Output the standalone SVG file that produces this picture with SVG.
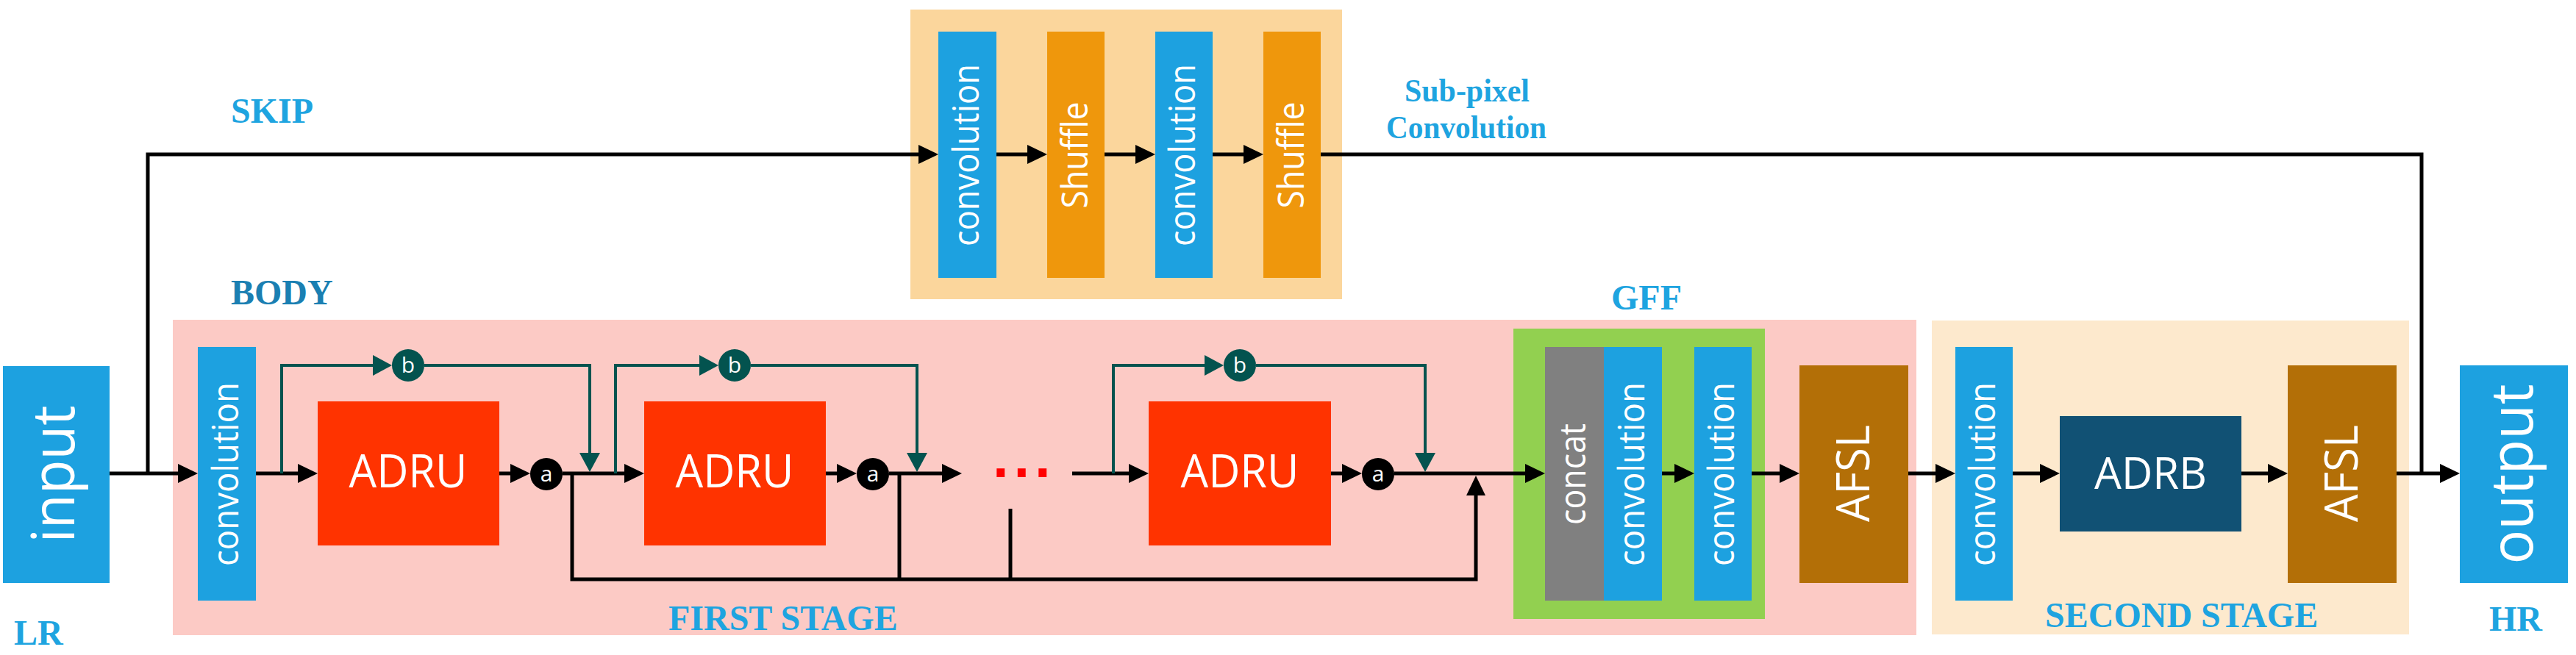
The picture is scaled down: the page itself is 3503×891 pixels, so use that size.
<svg xmlns="http://www.w3.org/2000/svg" width="3503" height="891" viewBox="0 0 3503 891">
<style>
.lbl{font-family:"Liberation Serif","Times New Roman",serif;font-weight:bold;font-size:48px;fill:#1ea4e0}
.body{fill:#1a7fb2}
.wt{font-family:"Open Sans","Noto Sans",sans-serif;fill:#fff;text-anchor:middle}
.vt{font-size:50px}
.blue{fill:#1da1e0}
.shuf{fill:#ef970c}
.adru{fill:#ff3300}
.afsl{fill:#b36f07}
.ln{fill:none;stroke:#000;stroke-width:5;stroke-linejoin:miter;stroke-linecap:butt}
.tl{fill:none;stroke:#03534f;stroke-width:4}
.cb{fill:#03534f}
.ca{fill:#000}
.ct{font-size:30px}
</style>
<defs>
<marker id="ab" markerUnits="userSpaceOnUse" markerWidth="28" markerHeight="28" refX="17" refY="13" orient="auto"><path d="M0,0 L27,13 L0,26 z" fill="#000"/></marker>
<marker id="at" markerUnits="userSpaceOnUse" markerWidth="28" markerHeight="30" refX="16" refY="14" orient="auto"><path d="M0,0 L26,14 L0,28 z" fill="#03534f"/></marker>
</defs>
<rect width="3503" height="891" fill="#fff"/>
<!-- backgrounds -->
<g id="subpixel-group"><rect x="1238" y="13" width="587" height="394" fill="#fbd69c"/></g>
<g id="first-stage-group"><rect x="235" y="435" width="2371" height="429" fill="#fccac5"/></g>
<g id="gff-group"><rect x="2058" y="447" width="342" height="395" fill="#92d050"/></g>
<g id="second-stage-group"><rect x="2627" y="436" width="649" height="427" fill="#fde9cd"/></g>

<!-- labels -->
<text class="lbl" x="314" y="167">SKIP</text>
<text class="lbl body" x="314" y="414">BODY</text>
<text class="lbl" x="2191" y="421">GFF</text>
<text class="lbl" x="1995" y="138" text-anchor="middle" textLength="170" lengthAdjust="spacingAndGlyphs" style="font-size:44px">Sub-pixel</text>
<text class="lbl" x="1994" y="188" text-anchor="middle" textLength="218" lengthAdjust="spacingAndGlyphs" style="font-size:44px">Convolution</text>
<text class="lbl" x="909" y="857">FIRST STAGE</text>
<text class="lbl" x="2781" y="853">SECOND STAGE</text>
<text class="lbl" x="19" y="877">LR</text>
<text class="lbl" x="3385" y="858">HR</text>

<!-- connectors -->
<g id="connectors">
<path class="ln" d="M149,644 H259" marker-end="url(#ab)"/>
<path class="ln" d="M201,644 V210 H1266" marker-end="url(#ab)"/>
<path class="ln" d="M1355,210 H1414" marker-end="url(#ab)"/>
<path class="ln" d="M1502,210 H1561" marker-end="url(#ab)"/>
<path class="ln" d="M1649,210 H1708" marker-end="url(#ab)"/>
<path class="ln" d="M1796,210 H3293 V644"/>
<path class="ln" d="M348,644 H422" marker-end="url(#ab)"/>
<path class="ln" d="M679,644 H711" marker-end="url(#ab)"/>
<path class="ln" d="M765,644 H866" marker-end="url(#ab)"/>
<path class="ln" d="M1123,644 H1155" marker-end="url(#ab)"/>
<path class="ln" d="M1209,644 H1298" marker-end="url(#ab)"/>
<path class="ln" d="M1458,644 H1552" marker-end="url(#ab)"/>
<path class="ln" d="M1810,644 H1842" marker-end="url(#ab)"/>
<path class="ln" d="M1896,644 H2091" marker-end="url(#ab)"/>
<path class="ln" d="M2260,644 H2294" marker-end="url(#ab)"/>
<path class="ln" d="M2382,644 H2437" marker-end="url(#ab)"/>
<path class="ln" d="M2595,644 H2649" marker-end="url(#ab)"/>
<path class="ln" d="M2737,644 H2791" marker-end="url(#ab)"/>
<path class="ln" d="M3048,644 H3101" marker-end="url(#ab)"/>
<path class="ln" d="M3259,644 H3335" marker-end="url(#ab)"/>
<path class="ln" d="M778,646 V788 H2007 V657" marker-end="url(#ab)"/>
<path class="ln" d="M1223,646 V788"/>
<path class="ln" d="M1374,692 V788"/>
<path class="tl" d="M383,644 V497 H523" marker-end="url(#at)"/>
<path class="tl" d="M577,497 H802 V632" marker-end="url(#at)"/>
<path class="tl" d="M837,644 V497 H967" marker-end="url(#at)"/>
<path class="tl" d="M1021,497 H1247 V632" marker-end="url(#at)"/>
<path class="tl" d="M1514,644 V497 H1654" marker-end="url(#at)"/>
<path class="tl" d="M1708,497 H1938 V632" marker-end="url(#at)"/>
</g>

<!-- ellipsis -->
<text x="1349" y="649" font-family="DejaVu Sans" font-weight="bold" font-size="62" fill="#ff0000" letter-spacing="5">...</text>

<!-- nodes -->
<g id="input"><rect class="blue" x="4" y="498" width="145" height="295"/><text class="wt" transform="translate(76.5,645) rotate(-90)" y="24" font-size="80" textLength="187" lengthAdjust="spacingAndGlyphs">input</text></g>
<g id="conv1"><rect class="blue" x="269" y="472" width="79" height="345"/><text class="wt vt" transform="translate(308.5,645) rotate(-90)" y="15" textLength="250" lengthAdjust="spacingAndGlyphs">convolution</text></g>
<g id="adru1"><rect class="adru" x="432" y="546" width="247" height="196"/><text class="wt" x="555" y="663" font-size="63" textLength="161" lengthAdjust="spacingAndGlyphs">ADRU</text></g>
<g id="adru2"><rect class="adru" x="876" y="546" width="247" height="196"/><text class="wt" x="999" y="663" font-size="63" textLength="161" lengthAdjust="spacingAndGlyphs">ADRU</text></g>
<g id="adru3"><rect class="adru" x="1562" y="546" width="248" height="196"/><text class="wt" x="1686" y="663" font-size="63" textLength="161" lengthAdjust="spacingAndGlyphs">ADRU</text></g>
<g id="b1"><circle class="cb" cx="555" cy="497" r="22"/><text class="wt ct" x="555" y="507">b</text></g>
<g id="b2"><circle class="cb" cx="999" cy="497" r="22"/><text class="wt ct" x="999" y="507">b</text></g>
<g id="b3"><circle class="cb" cx="1686" cy="497" r="22"/><text class="wt ct" x="1686" y="507">b</text></g>
<g id="a1"><circle class="ca" cx="743" cy="645" r="22"/><text class="wt ct" x="743" y="655">a</text></g>
<g id="a2"><circle class="ca" cx="1187" cy="645" r="22"/><text class="wt ct" x="1187" y="655">a</text></g>
<g id="a3"><circle class="ca" cx="1874" cy="645" r="22"/><text class="wt ct" x="1874" y="655">a</text></g>
<g id="concat"><rect x="2101" y="472" width="80" height="345" fill="#808080"/><text class="wt vt" transform="translate(2141,645) rotate(-90)" y="15" textLength="138" lengthAdjust="spacingAndGlyphs">concat</text></g>
<g id="gff-conv1"><rect class="blue" x="2181" y="472" width="79" height="345"/><text class="wt vt" transform="translate(2220.5,645) rotate(-90)" y="15" textLength="250" lengthAdjust="spacingAndGlyphs">convolution</text></g>
<g id="gff-conv2"><rect class="blue" x="2304" y="472" width="78" height="345"/><text class="wt vt" transform="translate(2343,645) rotate(-90)" y="15" textLength="250" lengthAdjust="spacingAndGlyphs">convolution</text></g>
<g id="afsl1"><rect class="afsl" x="2447" y="497" width="148" height="296"/><text class="wt" transform="translate(2521,644) rotate(-90)" y="21" font-size="63" textLength="132" lengthAdjust="spacingAndGlyphs">AFSL</text></g>
<g id="conv3"><rect class="blue" x="2659" y="472" width="78" height="345"/><text class="wt vt" transform="translate(2698,645) rotate(-90)" y="15" textLength="250" lengthAdjust="spacingAndGlyphs">convolution</text></g>
<g id="adrb"><rect x="2801" y="566" width="247" height="157" fill="#115174"/><text class="wt" x="2924.5" y="665" font-size="60" textLength="153" lengthAdjust="spacingAndGlyphs">ADRB</text></g>
<g id="afsl2"><rect class="afsl" x="3111" y="497" width="148" height="296"/><text class="wt" transform="translate(3185,644) rotate(-90)" y="21" font-size="63" textLength="132" lengthAdjust="spacingAndGlyphs">AFSL</text></g>
<g id="output"><rect class="blue" x="3345" y="497" width="147" height="296"/><text class="wt" transform="translate(3418.5,645) rotate(-90)" y="25" font-size="80" textLength="245" lengthAdjust="spacingAndGlyphs">output</text></g>
<g id="sp-conv1"><rect class="blue" x="1276" y="43" width="79" height="335"/><text class="wt vt" transform="translate(1315.5,211) rotate(-90)" y="15" textLength="248" lengthAdjust="spacingAndGlyphs">convolution</text></g>
<g id="sp-shuffle1"><rect class="shuf" x="1424" y="43" width="78" height="335"/><text class="wt vt" transform="translate(1463,211) rotate(-90)" y="16" textLength="145" lengthAdjust="spacingAndGlyphs">Shuffle</text></g>
<g id="sp-conv2"><rect class="blue" x="1571" y="43" width="78" height="335"/><text class="wt vt" transform="translate(1610,211) rotate(-90)" y="15" textLength="248" lengthAdjust="spacingAndGlyphs">convolution</text></g>
<g id="sp-shuffle2"><rect class="shuf" x="1718" y="43" width="78" height="335"/><text class="wt vt" transform="translate(1757,211) rotate(-90)" y="16" textLength="145" lengthAdjust="spacingAndGlyphs">Shuffle</text></g>
</svg>
